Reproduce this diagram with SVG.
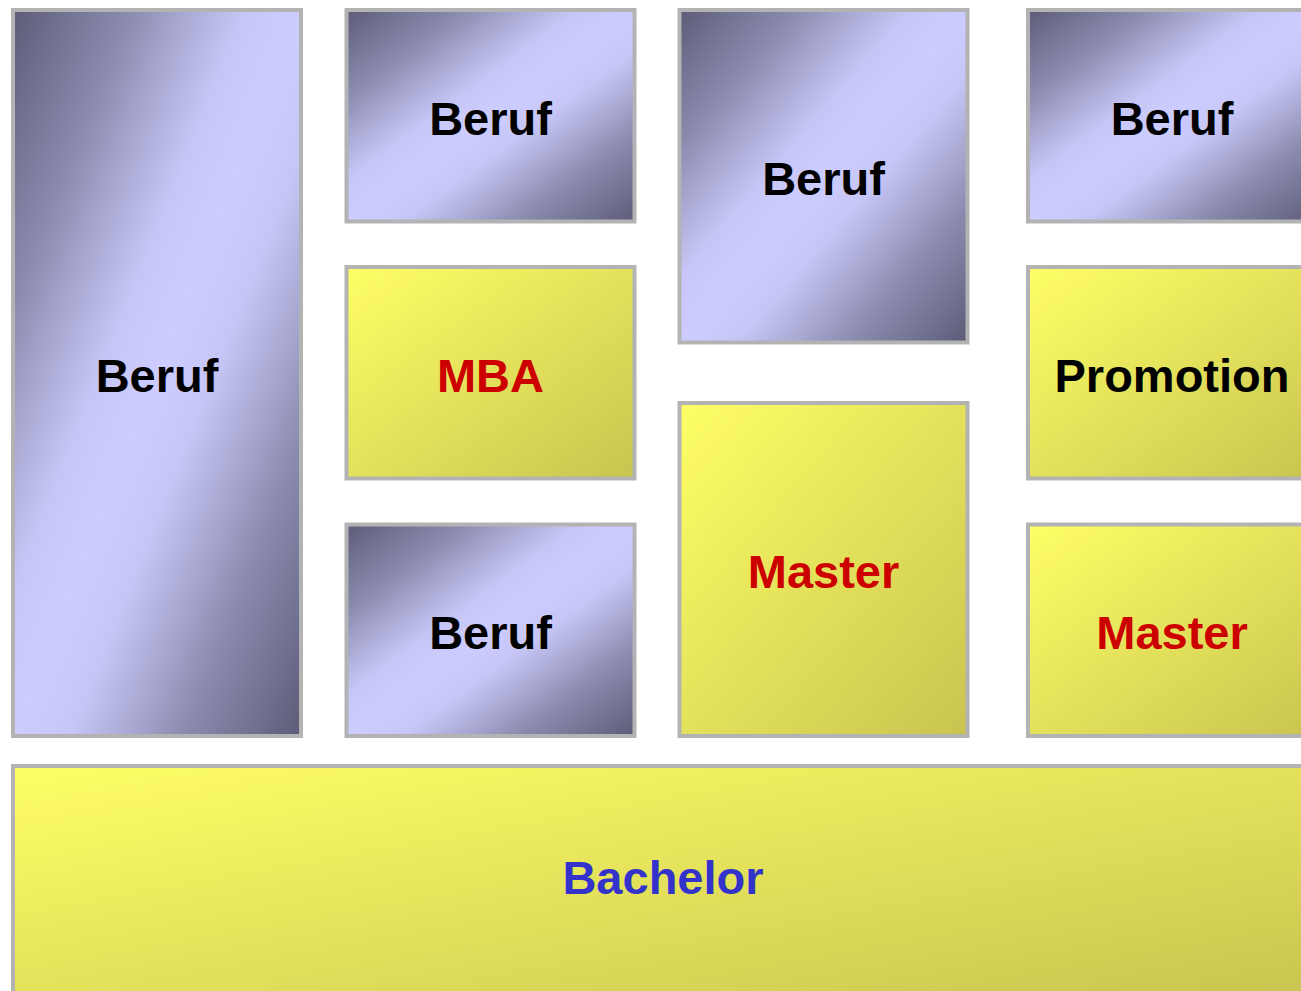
<svg xmlns="http://www.w3.org/2000/svg" width="1301" height="991" viewBox="0 0 1301 991">
<defs>
<linearGradient id="blue" x1="0" y1="0" x2="1" y2="1">
<stop offset="0" stop-color="#5c5c78"/>
<stop offset="0.2" stop-color="#8a8aae"/>
<stop offset="0.4" stop-color="#c6c6f6"/>
<stop offset="0.5" stop-color="#ccccff"/>
<stop offset="0.6" stop-color="#c6c6f6"/>
<stop offset="0.8" stop-color="#8a8aae"/>
<stop offset="1" stop-color="#5c5c78"/>
</linearGradient>
<linearGradient id="yellow" x1="0" y1="0" x2="1" y2="1">
<stop offset="0" stop-color="#ffff66"/>
<stop offset="1" stop-color="#c8c450"/>
</linearGradient>
</defs>
<style>
.b{fill:url(#blue);stroke:#b3b3b3;stroke-width:4}
.y{fill:url(#yellow);stroke:#b3b3b3;stroke-width:4}
text{font-family:"Liberation Sans",Arial,sans-serif;font-weight:bold;font-size:47px;text-anchor:middle}
.k{fill:#000000}
.r{fill:#cc0000}
.u{fill:#3333cc}
</style>
<rect width="1301" height="991" fill="#ffffff"/>
<g id="beruf1"><rect class="b" x="13" y="10" width="288" height="726"/><text class="k" x="157" y="391.5">Beruf</text></g>
<g id="beruf2"><rect class="b" x="346.5" y="10" width="288" height="211.5"/><text class="k" x="490.5" y="134.5">Beruf</text></g>
<g id="mba"><rect class="y" x="346.5" y="267" width="288" height="211.5"/><text class="r" x="490.5" y="391.5">MBA</text></g>
<g id="beruf3"><rect class="b" x="346.5" y="524.5" width="288" height="211.5"/><text class="k" x="490.5" y="649">Beruf</text></g>
<g id="beruf4"><rect class="b" x="679.5" y="10" width="288" height="332.5"/><text class="k" x="823.5" y="194.5">Beruf</text></g>
<g id="master1"><rect class="y" x="679.5" y="403" width="288" height="333"/><text class="r" x="823.5" y="588">Master</text></g>
<g id="beruf5"><rect class="b" x="1028" y="10" width="288" height="211.5"/><text class="k" x="1172" y="134.5">Beruf</text></g>
<g id="promotion"><rect class="y" x="1028" y="267" width="288" height="211.5"/><text class="k" x="1172" y="391.5">Promotion</text></g>
<g id="master2"><rect class="y" x="1028" y="524.5" width="288" height="211.5"/><text class="r" x="1172" y="649">Master</text></g>
<g id="bachelor"><rect class="y" x="13" y="766" width="1300" height="232"/><text class="u" x="663" y="893.5">Bachelor</text></g>
<g id="connectors"/>
</svg>
